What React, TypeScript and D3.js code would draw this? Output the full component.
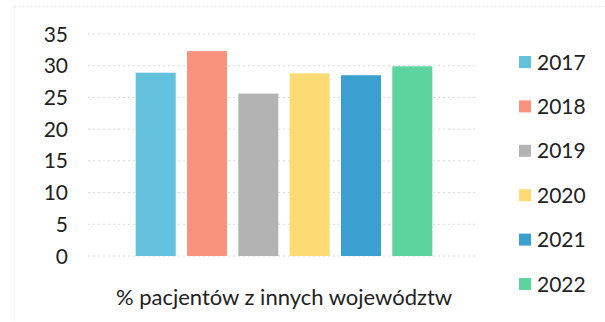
import React from "react";
import * as d3 from "d3";

const years = ["2017", "2018", "2019", "2020", "2021", "2022"];
const values = [28.9, 32.3, 25.6, 28.8, 28.5, 29.9];
const colors = ["#62c2de", "#f9937d", "#b3b3b3", "#fcda74", "#3b9fd0", "#5dd39e"];
const yTicks = [0, 5, 10, 15, 20, 25, 30, 35];
const xLabel = "% pacjentów z innych województw";

export default function App() {
  const W = 605, H = 322;
  const y = d3.scaleLinear().domain([0, 35]).range([256, 34]);
  const x = d3.scaleBand<string>().domain(years).range([110, 458]).paddingInner(0.22).paddingOuter(0.5);
  const font = "Lato, 'Open Sans', sans-serif";
  return (
    <svg width={W} height={H} style={{ position: "absolute", left: 0, top: 0, background: "#fff" }}>
      <rect x={14.5} y={6.5} width={W - 10} height={H + 10} fill="none" stroke="#e4e4e4" strokeDasharray="2,2" />
      {yTicks.map(t => (
        <g key={t}>
          <line x1={88} x2={477} y1={y(t)} y2={y(t)} stroke="#cfcfcf" strokeDasharray="2,3" strokeWidth={0.8} />
          <text x={68} y={y(t)} dy="0.36em" textAnchor="end" fontSize={21} fill="#222" fontFamily={font}>{t}</text>
        </g>
      ))}
      {years.map((yr, i) => (
        <rect key={yr} x={x(yr)} y={y(values[i])} width={x.bandwidth()} height={y(0) - y(values[i])} fill={colors[i]} />
      ))}
      <text x={284} y={297} dy="0.36em" textAnchor="middle" fontSize={22} fill="#222" fontFamily={font}>{xLabel}</text>
      {years.map((yr, i) => {
        const ly = 62 + i * 44.4;
        return (
          <g key={yr}>
            <rect x={519} y={ly - 6} width={12} height={12} fill={colors[i]} />
            <text x={537} y={ly} dy="0.36em" fontSize={21} fill="#222" fontFamily={font}>{yr}</text>
          </g>
        );
      })}
    </svg>
  );
}
